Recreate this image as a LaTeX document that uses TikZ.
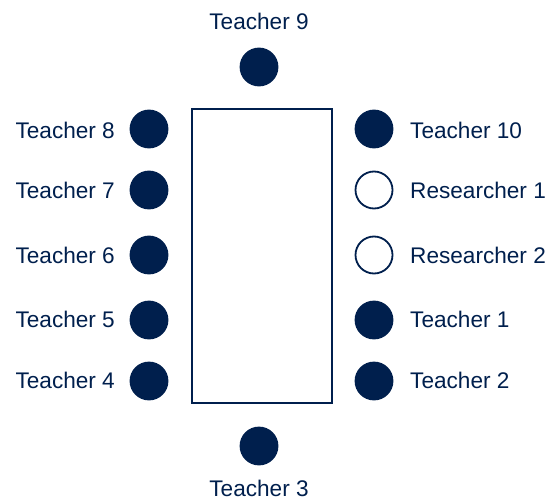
\documentclass[tikz,border=0pt]{standalone}
\usepackage{fontspec}
\setmainfont{Liberation Sans}
\definecolor{navy}{HTML}{001F4D}
\begin{document}
\begin{tikzpicture}[x=1pt,y=-1pt,
  seat/.style={circle,fill=navy,draw=navy,line width=1.8pt,minimum size=37pt,inner sep=0pt},
  rseat/.style={circle,fill=white,draw=navy,line width=1.8pt,minimum size=37pt,inner sep=0pt},
  lbl/.style={text=navy,font=\fontsize{22.6}{26}\selectfont,inner sep=0pt},
  tbl/.style={draw=navy,line width=1.8pt,fill=white}]
\useasboundingbox (0,0) rectangle (548,500);
\node[tbl,minimum width=140pt,minimum height=294pt,inner sep=0pt] (table) at (262,256) {};
% top and bottom
\node[seat] (t9) at (259,67) {};
\node[lbl,anchor=base] (l9) at (259,30) {Teacher 9};
\node[seat] (t3) at (259,446) {};
\node[lbl,anchor=base] (l3) at (259,496) {Teacher 3};
% left column
\node[seat] (t8) at (149,129) {};
\node[seat] (t7) at (149,190) {};
\node[seat] (t6) at (149,255) {};
\node[seat] (t5) at (149,320) {};
\node[seat] (t4) at (149,381) {};
\node[lbl,anchor=base east] (l8) at (115,138) {Teacher 8};
\node[lbl,anchor=base east] (l7) at (115,198) {Teacher 7};
\node[lbl,anchor=base east] (l6) at (115,263) {Teacher 6};
\node[lbl,anchor=base east] (l5) at (115,327) {Teacher 5};
\node[lbl,anchor=base east] (l4) at (115,388) {Teacher 4};
% right column
\node[seat] (t10) at (374,129) {};
\node[rseat] (r1) at (374,190) {};
\node[rseat] (r2) at (374,255) {};
\node[seat] (t1) at (374,320) {};
\node[seat] (t2) at (374,381) {};
\node[lbl,anchor=base west] (l10) at (410,138) {Teacher 10};
\node[lbl,anchor=base west] (lr1) at (410,198) {Researcher 1};
\node[lbl,anchor=base west] (lr2) at (410,263) {Researcher 2};
\node[lbl,anchor=base west] (l1) at (410,327) {Teacher 1};
\node[lbl,anchor=base west] (l2) at (410,388) {Teacher 2};
\end{tikzpicture}
\end{document}
